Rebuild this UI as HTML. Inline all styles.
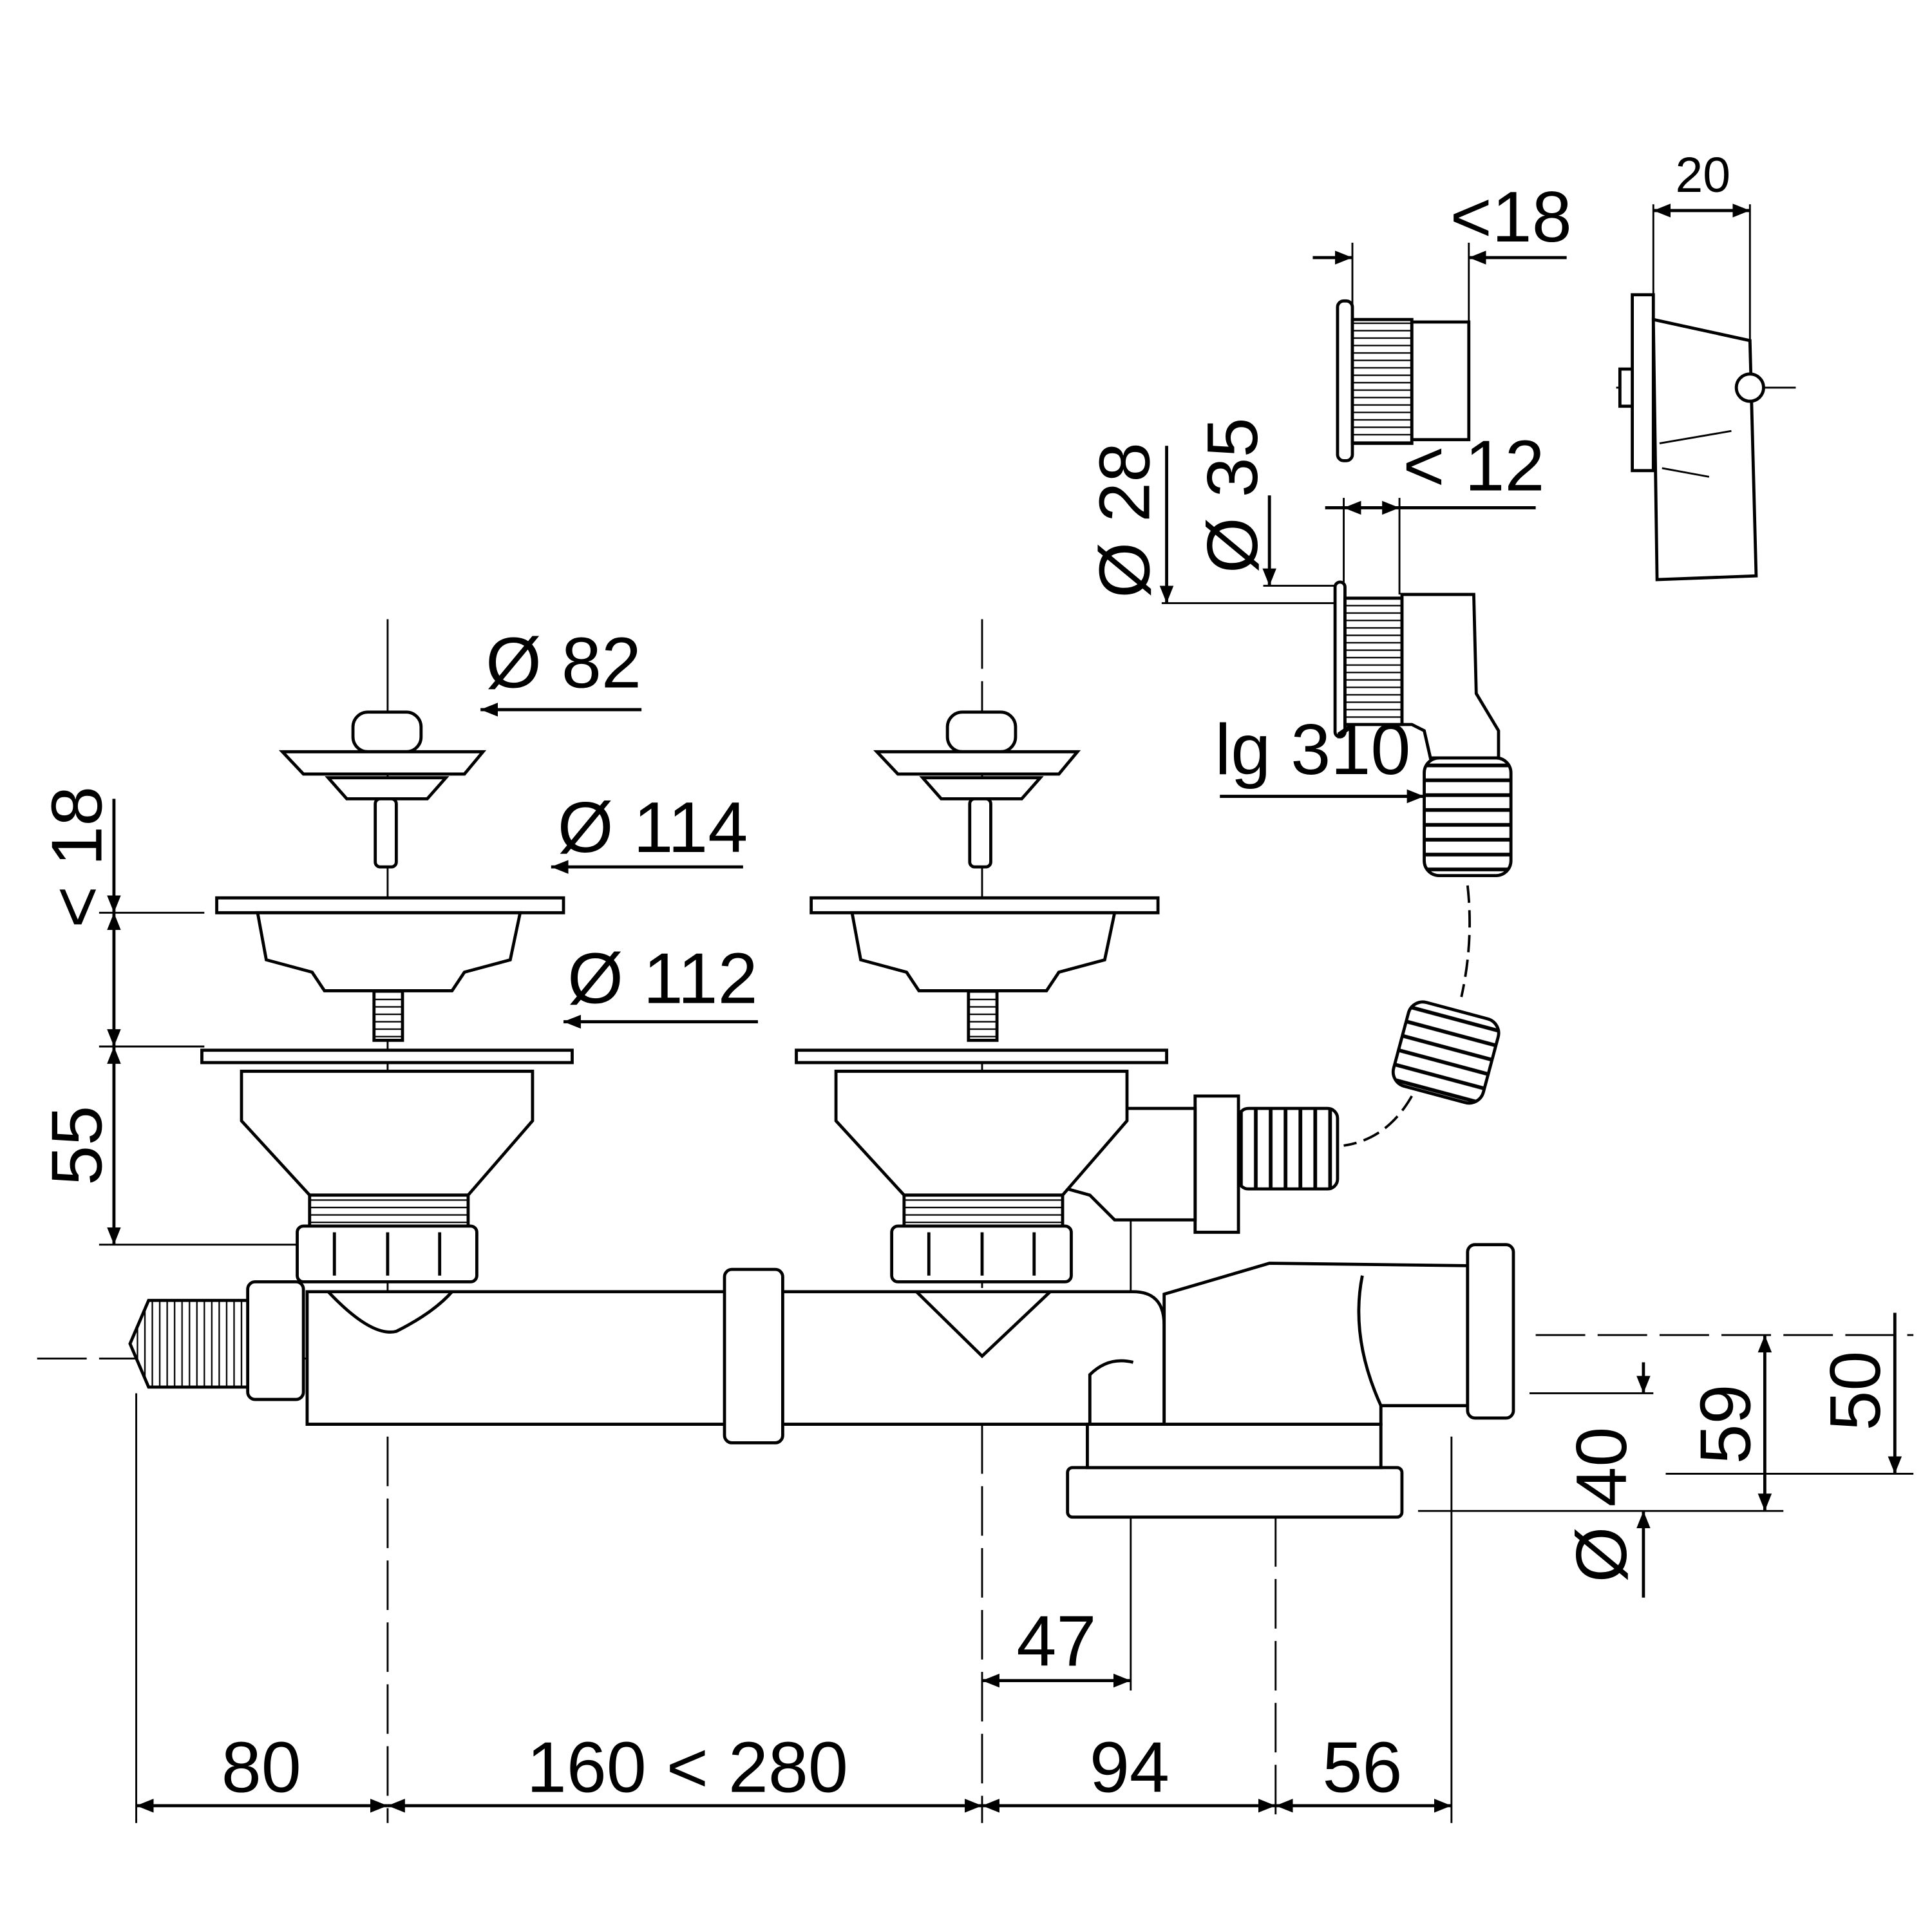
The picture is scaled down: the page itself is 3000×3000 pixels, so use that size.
<!DOCTYPE html>
<html><head><meta charset="utf-8"><style>
html,body{margin:0;padding:0;background:#fff}
svg{display:block}
text{font-family:"Liberation Sans",sans-serif;fill:#000}
</style></head><body>
<svg width="3000" height="3000" viewBox="0 0 1560 1560" xmlns="http://www.w3.org/2000/svg">
<defs>
<marker id="a" viewBox="0 0 10 10" refX="10" refY="5" markerWidth="14" markerHeight="14" markerUnits="userSpaceOnUse" orient="auto-start-reverse"><path d="M0,1 L10,5 L0,9z" fill="#000"/></marker>
<pattern id="thr" width="6" height="6" patternUnits="userSpaceOnUse"><rect width="6" height="6" fill="#fff"/><line x1="0" y1="3" x2="6" y2="3" stroke="#000" stroke-width="1.2"/></pattern>
<pattern id="thv" width="6" height="6" patternUnits="userSpaceOnUse"><rect width="6" height="6" fill="#fff"/><line x1="3" y1="0" x2="3" y2="6" stroke="#000" stroke-width="1.2"/></pattern>
<pattern id="cor" width="10" height="12" patternUnits="userSpaceOnUse"><rect width="10" height="12" fill="#fff"/><line x1="0" y1="6" x2="10" y2="6" stroke="#000" stroke-width="3"/></pattern>
<pattern id="corv" width="12" height="10" patternUnits="userSpaceOnUse"><rect width="12" height="10" fill="#fff"/><line x1="6" y1="0" x2="6" y2="10" stroke="#000" stroke-width="3"/></pattern>
</defs>
<g fill="none" stroke="#000" stroke-width="1.5">
<!-- bottom dims -->
<line x1="110" y1="1125" x2="110" y2="1472"/>
<line x1="313" y1="1010" x2="313" y2="1472" stroke-dasharray="40,10"/>
<line x1="793" y1="500" x2="793" y2="1472" stroke-dasharray="40,10"/>
<line x1="1030" y1="1125" x2="1030" y2="1472" stroke-dasharray="40,10"/>
<line x1="1172" y1="1160" x2="1172" y2="1472"/>
<line x1="913" y1="985" x2="913" y2="1365"/>
<g stroke-width="2.5">
<line x1="110" y1="1458" x2="313" y2="1458" marker-start="url(#a)" marker-end="url(#a)"/>
<line x1="313" y1="1458" x2="793" y2="1458" marker-start="url(#a)" marker-end="url(#a)"/>
<line x1="793" y1="1458" x2="1030" y2="1458" marker-start="url(#a)" marker-end="url(#a)"/>
<line x1="1030" y1="1458" x2="1172" y2="1458" marker-start="url(#a)" marker-end="url(#a)"/>
<line x1="793" y1="1357" x2="913" y2="1357" marker-start="url(#a)" marker-end="url(#a)"/>
<!-- left vertical -->
<line x1="92" y1="645" x2="92" y2="737" marker-end="url(#a)"/>
<line x1="92" y1="737" x2="92" y2="845" marker-start="url(#a)" marker-end="url(#a)"/>
<line x1="92" y1="845" x2="92" y2="1005" marker-start="url(#a)" marker-end="url(#a)"/>
<!-- right dims -->
<line x1="1530" y1="1060" x2="1530" y2="1190" marker-end="url(#a)"/>
<line x1="1425" y1="1078" x2="1425" y2="1220" marker-start="url(#a)" marker-end="url(#a)"/>
<line x1="1327" y1="1100" x2="1327" y2="1125" marker-end="url(#a)"/>
<line x1="1327" y1="1220" x2="1327" y2="1290" marker-start="url(#a)"/>
<!-- top -->
<line x1="1060" y1="208" x2="1092" y2="208" marker-end="url(#a)"/>
<line x1="1265" y1="208" x2="1186" y2="208" marker-end="url(#a)"/>
<line x1="1335" y1="170" x2="1413" y2="170" marker-start="url(#a)" marker-end="url(#a)"/>
<line x1="1070" y1="410" x2="1085" y2="410"/>
<line x1="1085" y1="410" x2="1130" y2="410" marker-start="url(#a)" marker-end="url(#a)"/>
<line x1="1240" y1="410" x2="1130" y2="410"/>
<line x1="942" y1="360" x2="942" y2="487" marker-end="url(#a)"/>
<line x1="1025" y1="400" x2="1025" y2="473" marker-end="url(#a)"/>
<line x1="985" y1="643" x2="1150" y2="643" marker-end="url(#a)"/>
<line x1="518" y1="573" x2="388" y2="573" marker-end="url(#a)"/>
<line x1="600" y1="700" x2="445" y2="700" marker-end="url(#a)"/>
<line x1="612" y1="825" x2="455" y2="825" marker-end="url(#a)"/>
</g>
<line x1="80" y1="737" x2="165" y2="737"/>
<line x1="80" y1="845" x2="165" y2="845"/>
<line x1="80" y1="1005" x2="245" y2="1005"/>
<line x1="1240" y1="1078" x2="1545" y2="1078" stroke-dasharray="40,10"/>
<line x1="1345" y1="1190" x2="1545" y2="1190"/>
<line x1="1145" y1="1220" x2="1440" y2="1220"/>
<line x1="1235" y1="1125" x2="1335" y2="1125"/>
<line x1="1092" y1="196" x2="1092" y2="255"/>
<line x1="1186" y1="196" x2="1186" y2="260"/>
<line x1="1335" y1="165" x2="1335" y2="240"/>
<line x1="1413" y1="165" x2="1413" y2="275"/>
<line x1="1085" y1="402" x2="1085" y2="470"/>
<line x1="1130" y1="402" x2="1130" y2="480"/>
<line x1="938" y1="487" x2="1085" y2="487"/>
<line x1="1020" y1="473" x2="1085" y2="473"/>
<line x1="30" y1="1097" x2="920" y2="1097" stroke-dasharray="40,10"/>
<line x1="1305" y1="313" x2="1450" y2="313"/>
<line x1="313" y1="500" x2="313" y2="1000"/>
</g>
<!-- parts -->
<g stroke="#000" stroke-width="2.5" fill="#fff">
<!-- top right fitting -->
<rect x="1080" y="243" width="12" height="129" rx="5"/>
<rect x="1092" y="258" width="48" height="100" fill="url(#thr)"/>
<rect x="1140" y="260" width="46" height="95"/>
<!-- plate part -->
<rect x="1318" y="238" width="17" height="142"/>
<path d="M1335,258 L1413,275 L1418,465 L1338,468z"/>
<rect x="1308" y="298" width="10" height="30"/>
<circle cx="1413" cy="313" r="11"/>
<line x1="1340" y1="358" x2="1398" y2="348" stroke-width="1.5"/>
<line x1="1342" y1="378" x2="1380" y2="385" stroke-width="1.5"/>
<!-- overflow elbow -->
<path d="M1132,480 L1190,480 L1192,560 L1210,590 L1210,612 L1155,612 L1150,590 L1140,585 L1132,585z"/>
<rect x="1078" y="470" width="8" height="125" rx="4"/>
<rect x="1086" y="483" width="46" height="102" fill="url(#thr)"/>
<rect x="1150" y="612" width="70" height="95" rx="12" fill="url(#cor)"/>
<rect x="1130" y="815" width="75" height="70" rx="12" fill="url(#cor)" transform="rotate(15 1168 850)"/>
<!-- horizontal hose -->
<rect x="1000" y="895" width="80" height="65" rx="8" fill="url(#corv)"/>
<rect x="965" y="885" width="35" height="110"/>
<path d="M905,895 L965,895 L965,985 L900,985 L880,965 L862,960z"/>
<!-- strainers -->
<g id="s1">
<rect x="285" y="575" width="55" height="32" rx="12"/>
<path d="M228,607 L390,607 L375,625 L245,625z"/>
<path d="M265,628 L360,628 L345,645 L280,645z"/>
<rect x="303" y="645" width="17" height="55" rx="4"/>
<rect x="175" y="725" width="280" height="12"/>
<path d="M208,737 L420,737 L412,775 L375,785 L365,800 L262,800 L252,785 L215,775z"/>
<rect x="302" y="800" width="23" height="40" fill="url(#thr)"/>
<rect x="163" y="848" width="299" height="10"/>
<path d="M195,865 L430,865 L430,905 L378,965 L250,965 L195,905z"/>
<rect x="250" y="965" width="128" height="25" fill="url(#thr)"/>
<rect x="240" y="990" width="145" height="45" rx="5"/>
<line x1="270" y1="995" x2="270" y2="1030"/><line x1="313" y1="995" x2="313" y2="1030"/><line x1="355" y1="995" x2="355" y2="1030"/>
</g>
<use href="#s1" transform="translate(480,0)"/>
<!-- main pipe -->
<path d="M248,1043 L915,1043 Q940,1043 940,1070 L940,1150 L248,1150z"/>
<path d="M265,1043 Q300,1080 320,1075 Q350,1060 365,1043" fill="none"/>
<path d="M740,1043 L793,1095 L848,1043" fill="none"/>
<rect x="585" y="1025" width="47" height="140" rx="6"/>
<rect x="200" y="1035" width="45" height="95" rx="6"/>
<path d="M200,1050 L120,1050 L105,1085 L120,1120 L200,1120z" fill="url(#thv)"/>
<!-- trap -->
<rect x="862" y="1185" width="270" height="40" rx="4"/>
<path d="M878,1150 L878,1185 L1115,1185 L1115,1150z"/>
<path d="M940,1045 L1025,1020 L1185,1022 L1185,1135 L1115,1135 L1115,1150 L940,1150z"/>
<path d="M1100,1030 Q1090,1080 1115,1135" fill="none"/>
<rect x="1185" y="1005" width="37" height="140" rx="6"/>
<path d="M880,1150 L880,1110 Q895,1095 915,1100" fill="none"/>
</g>
<!-- text -->
<g font-size="58">
<text x="211" y="1447" text-anchor="middle">80</text>
<text x="555" y="1447" text-anchor="middle">160 &lt; 280</text>
<text x="912" y="1447" text-anchor="middle">94</text>
<text x="1100" y="1447" text-anchor="middle">56</text>
<text x="853" y="1345" text-anchor="middle">47</text>
<text x="455" y="555" text-anchor="middle">Ø 82</text>
<text x="527" y="688" text-anchor="middle">Ø 114</text>
<text x="535" y="810" text-anchor="middle">Ø 112</text>
<text x="1060" y="625" text-anchor="middle">lg  310</text>
<text x="1190" y="396" text-anchor="middle">&lt; 12</text>
<text x="1220" y="195" text-anchor="middle">&lt;18</text>
<text transform="translate(82,692) rotate(-90)" text-anchor="middle">&lt; 18</text>
<text transform="translate(82,925) rotate(-90)" text-anchor="middle">55</text>
<text transform="translate(1518,1123) rotate(-90)" text-anchor="middle">50</text>
<text transform="translate(1413,1150) rotate(-90)" text-anchor="middle">59</text>
<text transform="translate(1313,1215) rotate(-90)" text-anchor="middle">Ø 40</text>
<text transform="translate(928,420) rotate(-90)" text-anchor="middle">Ø 28</text>
<text transform="translate(1015,400) rotate(-90)" text-anchor="middle">Ø 35</text>
</g>
<text x="1375" y="155" font-size="40" text-anchor="middle">20</text>
<path d="M1185,715 Q1190,760 1180,805 M1140,885 Q1120,920 1085,925" fill="none" stroke="#000" stroke-width="2" stroke-dasharray="14,6"/>
</svg>
</body></html>
